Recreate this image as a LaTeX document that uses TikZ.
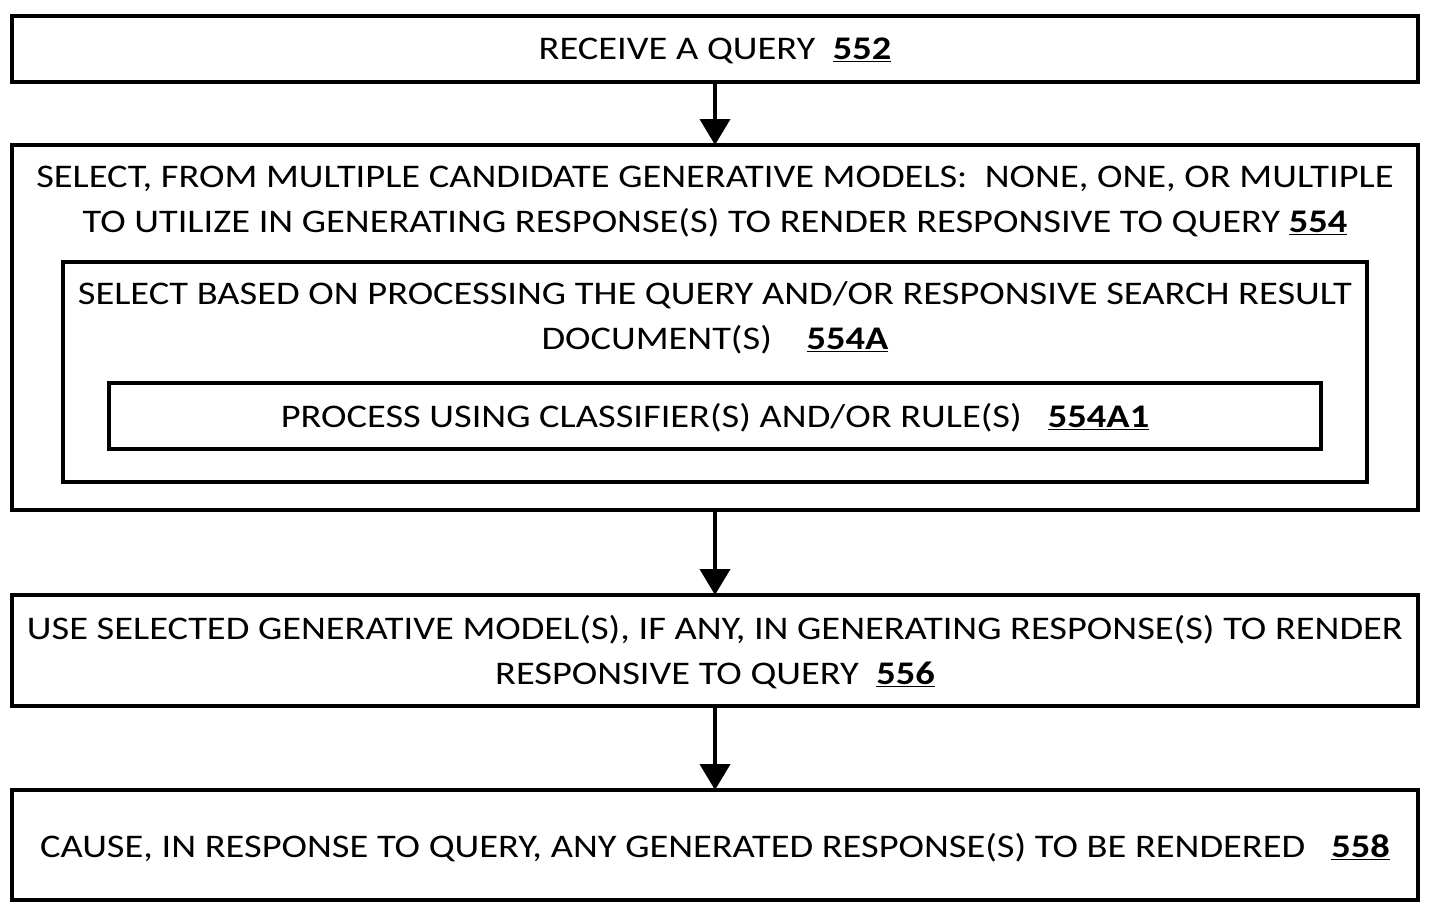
\documentclass[tikz,border=0pt]{standalone}
\usepackage{fontspec}
\setmainfont{Carlito}[FakeStretch=1.165]
\usetikzlibrary{arrows.meta}
\newcommand{\refnum}[1]{\underline{\textbf{#1}}}
\begin{document}
\begin{tikzpicture}[x=1pt,y=1pt,
  box/.style={draw=black,line width=4pt},
  lbl/.style={font=\fontsize{33}{45}\selectfont,align=center,inner sep=0pt},
  flow/.style={line width=4pt,-{Triangle[width=30pt,length=26pt]}}]
\useasboundingbox (0,0) rectangle (1434,-916);
\fill[white] (0,0) rectangle (1434,-916);
% boxes
\draw[box] (12,-16) rectangle (1418,-82);
\node[lbl] (t1) at (715,-51) {RECEIVE A QUERY\ \ \refnum{552}};
\coordinate (b1b) at (715,-82);
\draw[box] (12,-145) rectangle (1418,-510);
\coordinate (b2t) at (715,-145);
\coordinate (b2b) at (715,-510);
\node[lbl] (t2) at (715,-202) {SELECT, FROM MULTIPLE CANDIDATE GENERATIVE MODELS:\ \ NONE, ONE, OR MULTIPLE\\TO UTILIZE IN GENERATING RESPONSE(S) TO RENDER RESPONSIVE TO QUERY \refnum{554}};
\draw[box] (63,-262) rectangle (1367,-482);
\node[lbl] (t2a) at (715,-318) {SELECT BASED ON PROCESSING THE QUERY AND/OR RESPONSIVE SEARCH RESULT\\DOCUMENT(S)\ \ \ \ \refnum{554A}};
\draw[box] (109,-383) rectangle (1321,-449);
\node[lbl] (t2b) at (715,-418) {PROCESS USING CLASSIFIER(S) AND/OR RULE(S)\ \ \ \refnum{554A1}};
\draw[box] (12,-595) rectangle (1418,-706);
\coordinate (b3t) at (715,-595);
\coordinate (b3b) at (715,-706);
\node[lbl] (t3) at (715,-652) {USE SELECTED GENERATIVE MODEL(S), IF ANY, IN GENERATING RESPONSE(S) TO RENDER\\RESPONSIVE TO QUERY\ \ \refnum{556}};
\draw[box] (12,-790) rectangle (1418,-900);
\coordinate (b4t) at (715,-790);
\node[lbl] (t4) at (715,-848) {CAUSE, IN RESPONSE TO QUERY, ANY GENERATED RESPONSE(S) TO BE RENDERED\ \ \ \refnum{558}};
% arrows
\draw[flow] (b1b) -- (b2t);
\draw[flow] (b2b) -- (b3t);
\draw[flow] (b3b) -- (b4t);
\end{tikzpicture}
\end{document}
